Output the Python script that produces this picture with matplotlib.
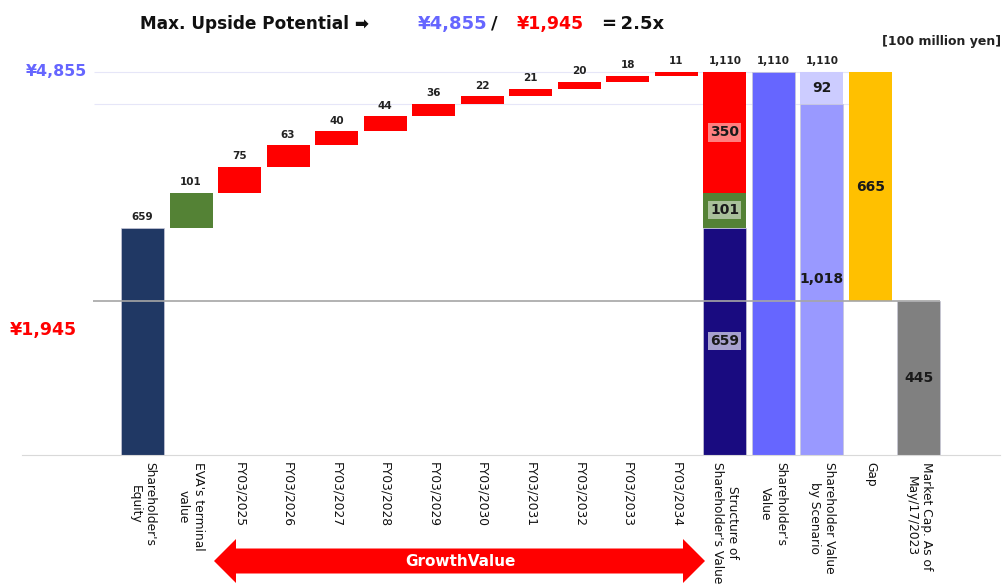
import numpy as np
import matplotlib
matplotlib.use("Agg")
import matplotlib.pyplot as plt
from matplotlib.patches import Polygon

plt.rcParams['font.family'] = ['DejaVu Sans']

# values in 100 million yen
categories = ["Shareholder's\nEquity", "EVA's terminal\nvalue",
              "FY03/2025", "FY03/2026", "FY03/2027", "FY03/2028", "FY03/2029",
              "FY03/2030", "FY03/2031", "FY03/2032", "FY03/2033", "FY03/2034",
              "Structure of\nShareholder's Value", "Shareholder's\nValue",
              "Shareholder Value\nby Scenario", "Gap",
              "Market Cap. As of\nMay/17/2023"]
equity = 659
eva_terminal = 101
growth = [75, 63, 40, 44, 36, 22, 21, 20, 18, 11]
scenario_base = 1018
scenario_upside = 92
market_cap = 445

# per-share prices (yen)
max_price = 4855
current_price = 1945

growth_total = sum(growth)
total = equity + eva_terminal + growth_total
gap = total - market_cap

C_EQUITY = "#203864"
C_GREEN = "#548235"
C_RED = "#FF0000"
C_NAVY = "#190B80"
C_SV = "#6666FF"
C_SCEN = "#9999FF"
C_SCEN_UP = "#CCCCFF"
C_GAP = "#FFC000"
C_MCAP = "#808080"

W, H = 1004, 588
fig = plt.figure(figsize=(W / 100, H / 100), dpi=100)

scale = 0.345  # px per unit
ymax = 1300
ax = fig.add_axes([22 / W, (H - 455) / H, (1000 - 22) / W, ymax * scale / H])
ax.set_xlim(-2.483, 17.67)
ax.set_ylim(0, ymax)

bw = 0.886
x = np.arange(len(categories))
ec = dict(edgecolor="#C8C8D8", linewidth=0.5)

def top_label(xi, top, text):
    ax.annotate(text, (xi, top), xytext=(0, 4), textcoords="offset points",
                ha="center", va="bottom", fontsize=7.5, color="#222222",
                fontweight="bold")

def inner_label(xi, y, text, box=None):
    kw = {}
    if box:
        kw["bbox"] = dict(boxstyle="square,pad=0.15", facecolor=box,
                          edgecolor="none")
    ax.text(xi, y, text, ha="center", va="center", fontsize=10,
            fontweight="bold", color="#1a1a1a", **kw)

# reference lines
ax.hlines([total, scenario_base], x[0] - 1.0, x[15] - 0.03, color="#E6E6F8",
          linewidth=0.8, zorder=0)
ax.hlines(market_cap, x[0] - 1.02, x[16] + 0.43, color="#A6A6A6",
          linewidth=1.2, zorder=3)

# waterfall
ax.bar(x[0], equity, bw, color=C_EQUITY, **ec)
top_label(x[0], equity, f"{equity:,}")
ax.bar(x[1], eva_terminal, bw, bottom=equity, color=C_GREEN)
top_label(x[1], equity + eva_terminal, f"{eva_terminal:,}")
bottoms = equity + eva_terminal + np.concatenate([[0], np.cumsum(growth)[:-1]])
for i, (g, b) in enumerate(zip(growth, bottoms)):
    ax.bar(x[2 + i], g, bw, bottom=b, color=C_RED)
    top_label(x[2 + i], b + g, f"{g:,}")

# structure of shareholder's value
xs = x[12]
ax.bar(xs, equity, bw, color=C_NAVY, **ec)
ax.bar(xs, eva_terminal, bw, bottom=equity, color=C_GREEN)
ax.bar(xs, growth_total, bw, bottom=equity + eva_terminal, color=C_RED)
top_label(xs, total, f"{total:,}")
inner_label(xs, equity / 2, f"{equity:,}", box=(1, 1, 1, 0.62))
inner_label(xs, equity + eva_terminal / 2, f"{eva_terminal:,}", box=(1, 1, 1, 0.5))
inner_label(xs, equity + eva_terminal + growth_total / 2, f"{growth_total:,}",
            box=(1, 1, 1, 0.5))

# shareholder's value
ax.bar(x[13], total, bw, color=C_SV, **ec)
top_label(x[13], total, f"{total:,}")

# by scenario
ax.bar(x[14], scenario_base, bw, color=C_SCEN, **ec)
ax.bar(x[14], scenario_upside, bw, bottom=scenario_base, color=C_SCEN_UP)
top_label(x[14], scenario_base + scenario_upside,
          f"{scenario_base + scenario_upside:,}")
inner_label(x[14], scenario_base / 2, f"{scenario_base:,}")
inner_label(x[14], scenario_base + scenario_upside / 2, f"{scenario_upside:,}")

# gap and market cap
ax.bar(x[15], gap, bw, bottom=market_cap, color=C_GAP)
inner_label(x[15], market_cap + gap / 2, f"{gap:,}")
ax.bar(x[16], market_cap, bw, color=C_MCAP, **ec)
inner_label(x[16], market_cap / 2, f"{market_cap:,}")

for s in ["top", "right", "left"]:
    ax.spines[s].set_visible(False)
ax.spines["bottom"].set_color("#D9D9D9")
ax.set_yticks([])
ax.set_xticks(x)
ax.set_xticklabels(categories, rotation=-90, ha="center", va="top",
                   multialignment="center", fontsize=8.8, color="#111111")
ax.tick_params(axis="x", length=0, pad=5)

# overlay in pixel coordinates for headline and annotations
ov = fig.add_axes([0, 0, 1, 1], facecolor="none")
ov.set_xlim(0, W)
ov.set_ylim(H, 0)
ov.axis("off")

ov.text(140, 24, "Max. Upside Potential \u27A1", fontsize=12.2, fontweight="bold",
        ha="left", va="center", color="#111111")
ov.text(418, 24, f"\u00a5{max_price:,}", fontsize=13, fontweight="bold",
        ha="left", va="center", color=C_SV)
ov.text(491, 24, "/", fontsize=13, fontweight="bold", ha="left", va="center",
        color="#111111")
ov.text(517, 24, f"\u00a5{current_price:,}", fontsize=12.5, fontweight="bold",
        ha="left", va="center", color=C_RED)
ov.text(602, 24, f"=\u2009{max_price / current_price:.1f}x", fontsize=13,
        fontweight="bold", ha="left", va="center", color="#111111")
ov.text(1001, 41, "[100 million yen]", fontsize=9, fontweight="bold",
        ha="right", va="center", color="#222222")

ov.text(87, 72, f"\u00a5{max_price:,}", fontsize=11.4, fontweight="bold",
        ha="right", va="center", color=C_SV)
ov.text(77, 330, f"\u00a5{current_price:,}", fontsize=12.5, fontweight="bold",
        ha="right", va="center", color=C_RED)

# growth value arrow
yc, shaft, head, hl = 561, 12.5, 22, 22
xl, xr = 214, 705
arrow = Polygon([(xl, yc), (xl + hl, yc - head), (xl + hl, yc - shaft),
                 (xr - hl, yc - shaft), (xr - hl, yc - head), (xr, yc),
                 (xr - hl, yc + head), (xr - hl, yc + shaft),
                 (xl + hl, yc + shaft), (xl + hl, yc + head)],
                closed=True, facecolor=C_RED, edgecolor="none")
ov.add_patch(arrow)
ov.text(460, 562, "GrowthValue", fontsize=11, fontweight="bold", color="white",
        ha="center", va="center")

fig.savefig("out.png", dpi=100)
